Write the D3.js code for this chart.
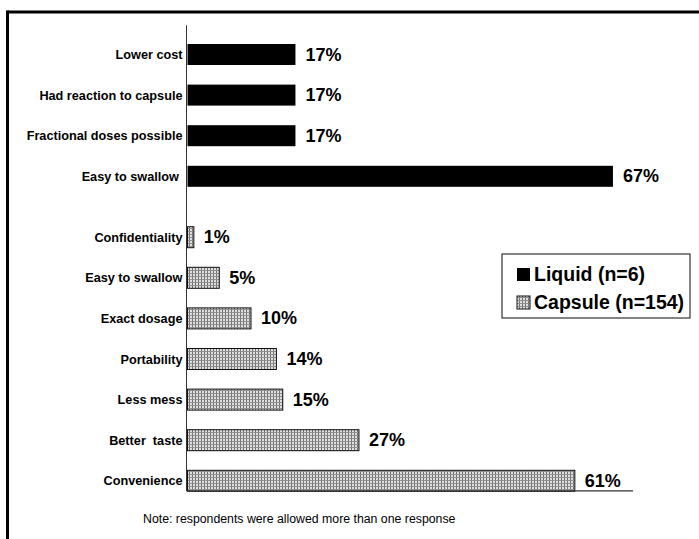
<!DOCTYPE html>
<html>
<head>
<meta charset="utf-8">
<script src="https://cdn.jsdelivr.net/npm/d3@7"></script>
<style>
  html, body { margin: 0; padding: 0; background: #fff; }
  svg { display: block; }
  text { font-family: "Liberation Sans", Arial, Helvetica, sans-serif; fill: #000; white-space: pre; }
</style>
</head>
<body>
<svg id="chart" width="699" height="539"></svg>
<script>
// Reasons for preferring a formulation, % of respondents
const liquidReasons = ["Lower cost", "Had reaction to capsule", "Fractional doses possible", "Easy to swallow "];
const liquidValues = [17, 17, 17, 67];
const capsuleReasons = ["Confidentiality", "Easy to swallow", "Exact dosage", "Portability", "Less mess", "Better  taste", "Convenience"];
const capsuleValues = [1, 5, 10, 14, 15, 27, 61];
const legendLabels = ["Liquid (n=6)", "Capsule (n=154)"];
const noteText = "Note: respondents were allowed more than one response";

const svg = d3.select("#chart");
const W = 699, H = 539;

// Hatched fill for capsule bars
const defs = svg.append("defs");
const pat = defs.append("pattern")
  .attr("id", "capsuleFill")
  .attr("patternUnits", "userSpaceOnUse")
  .attr("width", 3).attr("height", 3);
pat.append("rect").attr("width", 3).attr("height", 3).attr("fill", "#e0e0e0");
pat.append("rect").attr("x", 0).attr("y", 0).attr("width", 1).attr("height", 3).attr("fill", "#707070");
pat.append("rect").attr("x", 0).attr("y", 0).attr("width", 3).attr("height", 1).attr("fill", "#909090");

// Frame (top and left edges)
svg.append("line").attr("x1", 7.5).attr("x2", W).attr("y1", 12).attr("y2", 12)
  .attr("stroke", "#000").attr("stroke-width", 3);
svg.append("line").attr("x1", 7.5).attr("x2", 7.5).attr("y1", 10.5).attr("y2", H)
  .attr("stroke", "#000").attr("stroke-width", 3);

// Scales: x in percent, y on a row index (liquid rows 0..3, capsule rows after a 1.5 row gap)
const x = d3.scaleLinear().domain([0, 70]).range([187.5, 632]);
const y = d3.scaleLinear().domain([0, 10.5]).range([54.5, 480.8]);
const barH = 21;
const capsuleOffset = liquidReasons.length + 0.5;

const rows = [
  ...liquidReasons.map((r, i) => ({ reason: r, value: liquidValues[i], series: "liquid", idx: i })),
  ...capsuleReasons.map((r, i) => ({ reason: r, value: capsuleValues[i], series: "capsule", idx: i + capsuleOffset }))
];

// Bars
svg.append("g").selectAll("rect").data(rows).join("rect")
  .attr("x", x(0))
  .attr("y", d => y(d.idx) - barH / 2)
  .attr("width", d => x(d.value) - x(0))
  .attr("height", barH)
  .attr("fill", d => d.series === "liquid" ? "#000" : "url(#capsuleFill)")
  .attr("stroke", d => d.series === "liquid" ? "none" : "#111")
  .attr("stroke-width", 1);

// Axes lines
const yTop = y(-0.72), yBot = y(10.75);
svg.append("line").attr("x1", x(0) - 1).attr("x2", x(0) - 1).attr("y1", yTop).attr("y2", yBot)
  .attr("stroke", "#333").attr("stroke-width", 1);
svg.append("line").attr("x1", x(0) - 1).attr("x2", x(70) + 1).attr("y1", yBot).attr("y2", yBot)
  .attr("stroke", "#333").attr("stroke-width", 1.2);

// Category labels
svg.append("g").selectAll("text").data(rows).join("text")
  .attr("x", x(0) - 5)
  .attr("y", d => y(d.idx) + 4.5)
  .attr("text-anchor", "end")
  .attr("font-size", 12.7)
  .attr("font-weight", "bold")
  .text(d => d.reason);

// Value labels
svg.append("g").selectAll("text").data(rows).join("text")
  .attr("x", d => x(d.value) + 10)
  .attr("y", d => y(d.idx) + 6)
  .attr("font-size", 18)
  .attr("font-weight", "bold")
  .text(d => d.value + "%");

// Legend
const lg = svg.append("g");
lg.append("rect").attr("x", 502).attr("y", 254).attr("width", 188).attr("height", 64)
  .attr("fill", "#fff").attr("stroke", "#333").attr("stroke-width", 1.2);
const swatchFills = ["#000", "url(#capsuleFill)"];
legendLabels.forEach((lab, i) => {
  const yy = 268 + i * 28;
  lg.append("rect").attr("x", 517).attr("y", yy).attr("width", 13).attr("height", 13)
    .attr("fill", swatchFills[i]).attr("stroke", i ? "#111" : "none");
  lg.append("text").attr("x", 534).attr("y", yy + 13)
    .attr("font-size", 19.5).attr("font-weight", "bold").text(lab);
});

// Footnote
svg.append("text").attr("x", 143).attr("y", 523).attr("font-size", 12.3).text(noteText);
</script>
</body>
</html>
